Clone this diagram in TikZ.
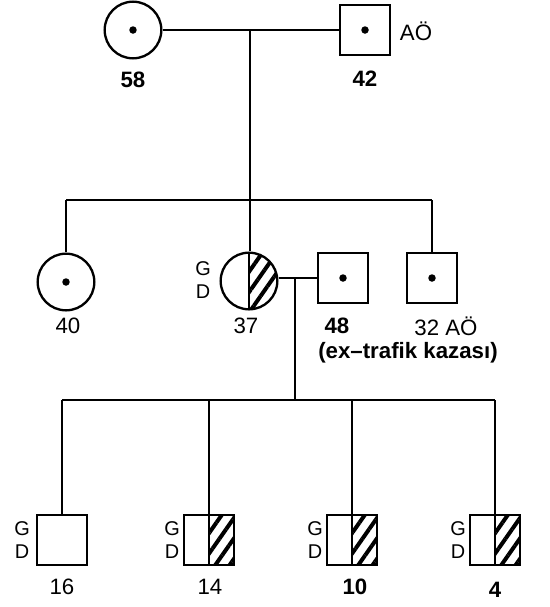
\documentclass[tikz,border=0pt]{standalone}
\usepackage{fontspec}
\setmainfont{Liberation Sans}
\usetikzlibrary{patterns.meta}

\tikzset{
  person/.style={draw, line width=2pt, inner sep=0pt},
  female/.style={person, circle, minimum size=1.7cm},
  male/.style={person, rectangle, minimum size=1.5cm},
  carrier/.style={path picture={
      \fill (path picture bounding box.center) circle (3.2pt);}},
  halfhatch/.style={path picture={
      \fill[pattern={Lines[angle=55,distance=10pt,line width=3.4pt]}]
        (path picture bounding box.north) rectangle (path picture bounding box.south east);
      \draw[line width=2pt] (path picture bounding box.north) -- (path picture bounding box.south);}},
  age/.style={font=\fontsize{19}{21}\selectfont},
  bage/.style={font=\fontsize{19}{21}\selectfont\bfseries},
  gd/.style={font=\fontsize{17}{19}\selectfont, align=center, inner sep=0pt},
}

\begin{document}
\begin{tikzpicture}[x=0.03cm, y=-0.03cm, line width=1.7pt]
    \useasboundingbox (0,0) rectangle (549,607);

    % Generation I
    \node[female, carrier] (p58) at (133,30) {};
    \node[male, carrier] (p42) at (365,30) {};
    \node[bage] (l58) at (133,80) {58};
    \node[bage] (l42) at (365,79) {42};
    \node[age] (ao42) at (416,31) {AÖ};

    % Generation II
    \node[female, carrier] (p40) at (66,282) {};
    \node[female, halfhatch] (p37) at (249,281) {};
    \node[male, carrier] (p48) at (343,278) {};
    \node[male, carrier] (p32) at (432,278) {};
    \node[age] (l40) at (68,326) {40};
    \node[age] (l37) at (246,326) {37};
    \node[bage] (l48) at (337,326) {48};
    \node[age] (l32) at (446,326) {32 AÖ};
    \node[bage, font=\fontsize{19}{21}\selectfont\bfseries] (ex48) at (408,353) {(ex--trafik kazası)};
    \node[gd] (gd37) at (203,280) {G\\D};

    % Generation III
    \node[male] (p16) at (62,540) {};
    \node[male, halfhatch] (p14) at (209,540) {};
    \node[male, halfhatch] (p10) at (352,540) {};
    \node[male, halfhatch] (p4) at (495,540) {};
    \node[age] (l16) at (62,587) {16};
    \node[age] (l14) at (210,587) {14};
    \node[bage] (l10) at (355,587) {10};
    \node[bage] (l4) at (495,590) {4};
    \node[gd] (gd16) at (22,540) {G\\D};
    \node[gd] (gd14) at (172,540) {G\\D};
    \node[gd] (gd10) at (315,540) {G\\D};
    \node[gd] (gd4) at (458,540) {G\\D};

    % Junction points
    \coordinate (c1) at (250,30);
    \coordinate (s1) at (250,200);
    \coordinate (s40) at (66,200);
    \coordinate (s32) at (432,200);
    \coordinate (c2) at (295,278);
    \coordinate (s2) at (295,400);
    \coordinate (k16) at (62,400);
    \coordinate (k14) at (209,400);
    \coordinate (k10) at (352,400);
    \coordinate (k4) at (495,400);

    % Lines
    \draw (p58) -- (p42);
    \draw (c1) -- (s1);
    \draw (s40) -- (s32);
    \draw (s40) -- (p40);
    \draw (s1) -- (s1 |- p37.north);
    \draw (s32) -- (p32);
    \draw (p37.east |- c2) -- (p48);
    \draw (c2) -- (s2);
    \draw (k16) -- (k4);
    \draw (k16) -- (p16);
    \draw (k14) -- (p14);
    \draw (k10) -- (p10);
    \draw (k4) -- (p4);
\end{tikzpicture}
\end{document}
